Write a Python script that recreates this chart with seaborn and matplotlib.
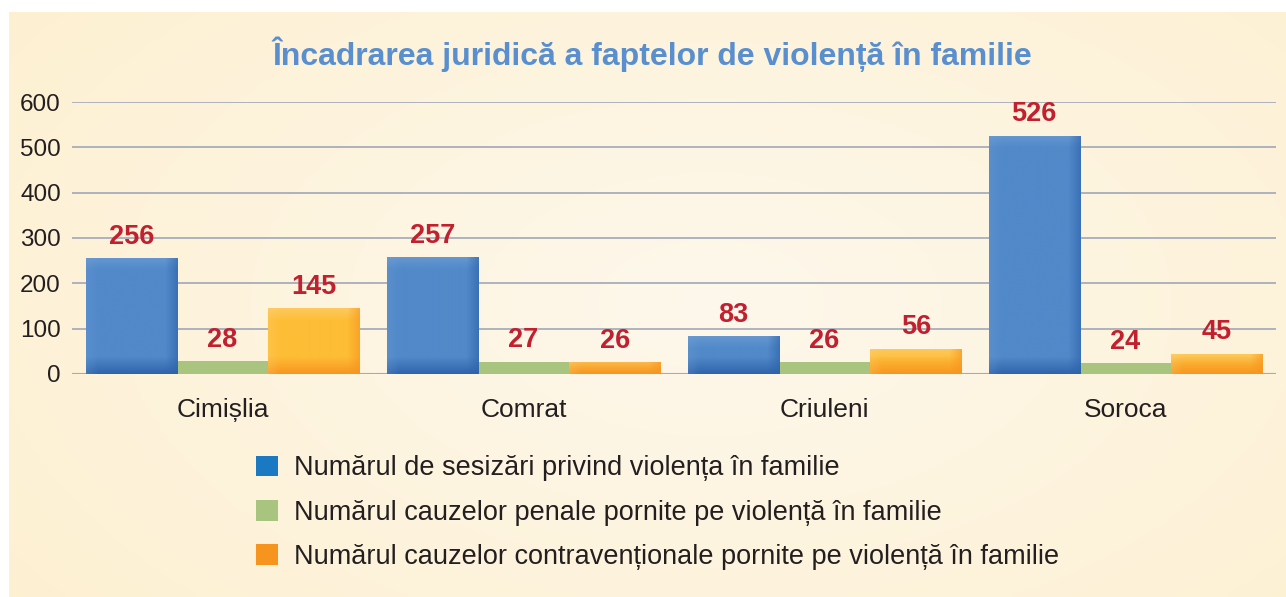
import numpy as np
import pandas as pd
import matplotlib
matplotlib.use("Agg")
import matplotlib.pyplot as plt
import matplotlib.colors as mcolors
from matplotlib.patches import Patch
import seaborn as sns

# data
districts = ["Cimișlia", "Comrat", "Criuleni", "Soroca"]
series_names = [
    "Numărul de sesizări privind violența în familie",
    "Numărul cauzelor penale pornite pe violență în familie",
    "Numărul cauzelor contravenționale pornite pe violență în familie",
]
sesizari = [256, 257, 83, 526]
penale = [28, 27, 26, 24]
contraventionale = [145, 26, 56, 45]

title = "Încadrarea juridică a faptelor de violență în familie"
y_ticks = [0, 100, 200, 300, 400, 500, 600]

legend_colors = ["#1b79c3", "#a9c47f", "#f7941d"]
bar_colors = ["#4f88c8", "#a9c47f", "#fcbb34"]
label_color = "#c1202f"
title_color = "#5a8fcf"
text_color = "#231f20"

df = pd.DataFrame({
    "district": districts * 3,
    "series": [series_names[0]] * 4 + [series_names[1]] * 4 + [series_names[2]] * 4,
    "value": sesizari + penale + contraventionale,
})

sns.set_style("white")
plt.rcParams["font.family"] = ["Liberation Sans", "DejaVu Sans"]

W, H = 1286, 597
fig = plt.figure(figsize=(W / 100, H / 100), dpi=100)

# background panel with soft gradient
bg = fig.add_axes([9 / W, 0, 1 - 9 / W, 1 - 12 / H], zorder=-5)
gy, gx = np.mgrid[0:1:200j, 0:1:400j]
r = np.sqrt(((gx - 0.55) / 0.8) ** 2 + ((gy - 0.5) / 1.0) ** 2)
r = np.clip(r, 0, 1)
c_in = np.array(mcolors.to_rgb("#fef8ec"))
c_out = np.array(mcolors.to_rgb("#fdefcd"))
img = c_in[None, None, :] * (1 - r[..., None]) + c_out[None, None, :] * r[..., None]
bg.imshow(img, aspect="auto", extent=(0, 1, 0, 1))
bg.axis("off")

ax = fig.add_axes([72 / W, 1 - 374 / H, (1276 - 72) / W, (374 - 102) / H])
ax.patch.set_alpha(0)

sns.barplot(data=df, x="district", y="value", hue="series", hue_order=series_names,
            palette=bar_colors, width=0.91, gap=0, saturation=1, ax=ax,
            legend=False, edgecolor="none")

ax.set_xlim(-0.5, 3.5)
ax.set_ylim(0, 600)
ax.set_yticks(y_ticks)
ax.set_yticklabels([str(t) for t in y_ticks], fontsize=17.5, color=text_color)
ax.tick_params(axis="x", labelsize=19, labelcolor=text_color, length=0, pad=17)
ax.tick_params(axis="y", length=0, pad=8)
ax.set_xlabel("")
ax.set_ylabel("")
for s in ax.spines.values():
    s.set_visible(False)
ax.grid(axis="y", color="#a7adbb", linewidth=1.3)
ax.set_axisbelow(True)
ax.axhline(0, color="#8d93a0", linewidth=1.5, zorder=0.5)


def bevel_image(w, h, base, light, dark, bottom_col, bw=12):
    yy, xx = np.mgrid[0:h, 0:w].astype(float)
    base = np.array(mcolors.to_rgb(base))
    light = np.array(mcolors.to_rgb(light))
    dark = np.array(mcolors.to_rgb(dark))
    bottom_col = np.array(mcolors.to_rgb(bottom_col))
    out = np.tile(base, (h, w, 1))
    # top edge lighter
    t = np.clip(1 - yy / bw, 0, 1)[..., None]
    out = out * (1 - 0.6 * t) + light * 0.6 * t
    # bottom edge darker
    b = np.clip(1 - (h - 1 - yy) / (bw * 1.4), 0, 1)[..., None]
    out = out * (1 - 0.85 * b) + bottom_col * 0.85 * b
    # right edge darker
    rr = np.clip(1 - (w - 1 - xx) / bw, 0, 1)[..., None]
    out = out * (1 - 0.6 * rr) + dark * 0.6 * rr
    # left edge slightly lighter
    ll = np.clip(1 - xx / bw, 0, 1)[..., None]
    out = out * (1 - 0.25 * ll) + light * 0.25 * ll
    return np.clip(out, 0, 1)


styles = {
    0: ("#5189c9", "#74a0d6", "#2c62a8", "#2a5ea6"),
    2: ("#fdbd35", "#fdd27a", "#f7941d", "#f68f1e"),
}
fig.canvas.draw()
for i, bar in enumerate(ax.patches):
    k = i // len(districts)
    if k not in styles:
        continue
    x0, y0 = bar.get_x(), bar.get_y()
    bw_, bh_ = bar.get_width(), bar.get_height()
    p0 = ax.transData.transform((x0, y0))
    p1 = ax.transData.transform((x0 + bw_, y0 + bh_))
    wpx = max(int(round(p1[0] - p0[0])), 2)
    hpx = max(int(round(p1[1] - p0[1])), 2)
    im = bevel_image(wpx, hpx, *styles[k])
    art = ax.imshow(im, extent=(x0, x0 + bw_, y0, y0 + bh_), aspect="auto",
                    zorder=bar.get_zorder() + 0.1, interpolation="bilinear")
    art.set_clip_path(bar)

ax.set_xlim(-0.5, 3.5)
ax.set_ylim(0, 600)

for i, bar in enumerate(ax.patches):
    v = bar.get_height()
    ax.annotate(f"{v:.0f}", (bar.get_x() + bar.get_width() / 2, v),
                xytext=(0, 6), textcoords="offset points", ha="center", va="bottom",
                fontsize=19.5, fontweight="bold", color=label_color)

fig.text(652 / W, 1 - 54 / H, title, ha="center", va="center", fontsize=23,
         fontweight="bold", color=title_color)

handles = [Patch(facecolor=c, edgecolor="none") for c in legend_colors]
fig.legend(handles, series_names, loc="upper left", bbox_to_anchor=(232 / W, 1 - 431 / H),
           frameon=False, fontsize=19.5, handlelength=0.8, handleheight=0.8,
           handletextpad=0.6, labelspacing=0.68, labelcolor=text_color)

fig.savefig("out.png", dpi=100)
